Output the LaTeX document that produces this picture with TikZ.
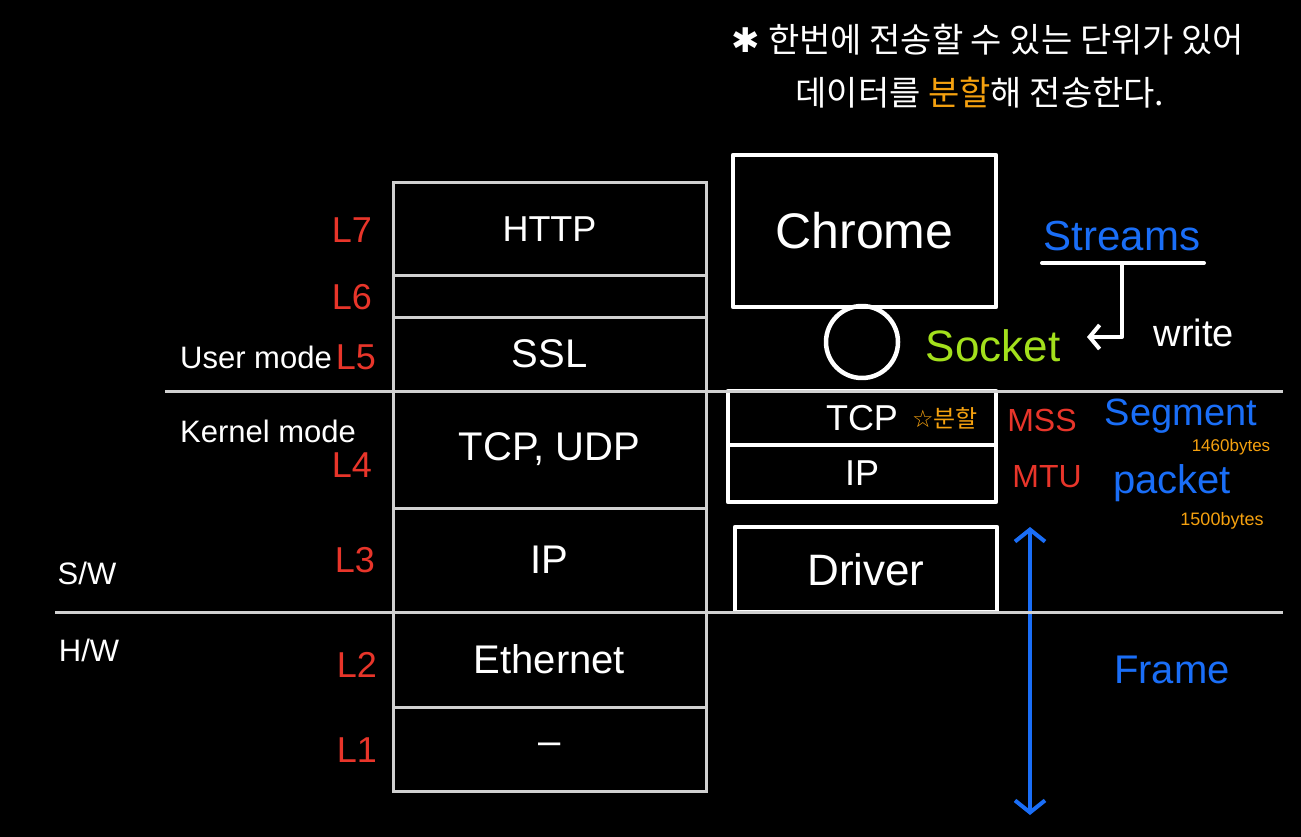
\documentclass[tikz,border=0pt]{standalone}
\usepackage{fontspec}
\setmainfont{Liberation Sans}
\newfontfamily\krfont{Noto Sans CJK KR}
\newfontfamily\symfont{DejaVu Sans}
\usepackage{tikz}
\usetikzlibrary{arrows.meta}

\newcommand\fsz[1]{\fontsize{#1}{#1}\selectfont}
\definecolor{hred}{HTML}{E8352A}
\definecolor{hblue}{HTML}{1A6EF7}
\definecolor{horange}{HTML}{F5A10F}
\definecolor{hgreen}{HTML}{A3E01C}
\definecolor{sepgray}{HTML}{D0D0D0}

\begin{document}
\begin{tikzpicture}[x=1pt,y=-1pt,
  layer/.style={draw=sepgray,line width=3pt,minimum width=313pt,inner sep=0pt,text=white,font=\fsz{40}},
  lnum/.style={text=hred,font=\fsz{36}},
  typed/.style={text=white,font=\fsz{31}},
  wbox/.style={draw=white,line width=4.5pt,line join=round,inner sep=0pt,outer sep=0pt,text=white,font=\fsz{36}},
  sepline/.style={sepgray,line width=3pt},
  note/.style={text=white,font=\krfont\fsz{34}}]
  \fill[black] (0,0) rectangle (1301,837);

  % protocol stack
  \node[layer,minimum height=92pt,font=\fsz{36}] (http) at (549.5,229) {HTTP};
  \node[layer,minimum height=42pt] (pres) at (549.5,296) {};
  \node[layer,minimum height=74pt] (ssl) at (549.5,354) {SSL};
  \node[layer,minimum height=117pt] (tcpudp) at (549.5,449.5) {TCP, UDP};
  \node[layer,minimum height=104pt] (ip) at (549.5,560) {IP};
  \node[layer,minimum height=95pt] (eth) at (549.5,659.5) {Ethernet};
  \node[layer,minimum height=84pt] (phy) at (549.5,749) {--};

  \node[lnum] (l7) at (352,230) {L7};
  \node[lnum] (l6) at (352,297) {L6};
  \node[lnum] (l5) at (356,357) {L5};
  \node[lnum] (l4) at (352,465) {L4};
  \node[lnum] (l3) at (355,560) {L3};
  \node[lnum] (l2) at (357,665) {L2};
  \node[lnum] (l1) at (357,750) {L1};

  \node[typed] (user) at (256,357) {User mode};
  \node[typed] (kernel) at (268,431) {Kernel mode};
  \node[typed] (sw) at (87,573) {S/W};
  \node[typed] (hw) at (89,650) {H/W};

  % sending side
  \node[wbox,minimum width=263pt,minimum height=152pt,font=\fsz{50}] (chrome) at (864.5,231) {Chrome};
  \node[wbox,circle,minimum size=72pt] (sock) at (862,342) {};
  \node[text=hgreen,font=\fsz{44}] (socket) at (993,346) {Socket};
  \node[wbox,minimum width=268pt,minimum height=54pt] (tcp) at (862,418) {TCP};
  \node[wbox,minimum width=268pt,minimum height=57pt,anchor=north] (ipbox) at (tcp.south) {IP};
  \node[wbox,minimum width=262pt,minimum height=85pt,font=\fsz{44}] (driver) at (866,569.5) {Driver};
  \node[text=horange,font=\fsz{24}] (split) at (945,418) {{\symfont ☆}{\krfont 분할}};

  \node[text=hblue,font=\fsz{42}] (streams) at (1122,236) {Streams};
  \coordinate (ulL) at (1042,263);
  \coordinate (ulR) at (1204,263);
  \coordinate (ulM) at (1122,263);
  \coordinate (wtip) at (1087,337);
  \draw[white,line width=4pt,line cap=round] (ulL) -- (ulR);
  \draw[white,line width=4pt,line join=round,-{Straight Barb[length=10pt,width=24pt]}] (ulM) |- (wtip);
  \node[text=white,font=\fsz{38}] (write) at (1194,333) {write};

  \node[text=hred,font=\fsz{32}] (mss) at (1042,420) {MSS};
  \node[text=hred,font=\fsz{32}] (mtu) at (1047,477) {MTU};
  \node[text=hblue,font=\fsz{38},inner sep=0pt] (segment) at (1181,416) {Segment};
  \node[text=horange,font=\fsz{17},inner sep=0pt] (seglen) at (1231,447) {1460bytes};
  \node[text=hblue,font=\fsz{40},inner sep=0pt] (packet) at (1172,483) {packet};
  \node[text=horange,font=\fsz{18}] (pktlen) at (1222,521) {1500bytes};
  \node[text=hblue,font=\fsz{40}] (frame) at (1172,670) {Frame};

  \coordinate (ftop) at (1030,527);
  \coordinate (fbot) at (1030,815);
  \draw[hblue,line width=4pt,{Straight Barb[length=12pt,width=30pt]}-{Straight Barb[length=12pt,width=30pt]}] (ftop) -- (fbot);

  % mode borders
  \draw[sepline] (165,391) -- (1283,391);
  \draw[sepline] (55,612) -- (1283,612);

  % note
  \node[note] (note1) at (988,40) {{\symfont ✱} 한번에 전송할 수 있는 단위가 있어};
  \node[note] (note2) at (980,93) {데이터를 \textcolor{horange}{분할}해 전송한다.};
\end{tikzpicture}
\end{document}
